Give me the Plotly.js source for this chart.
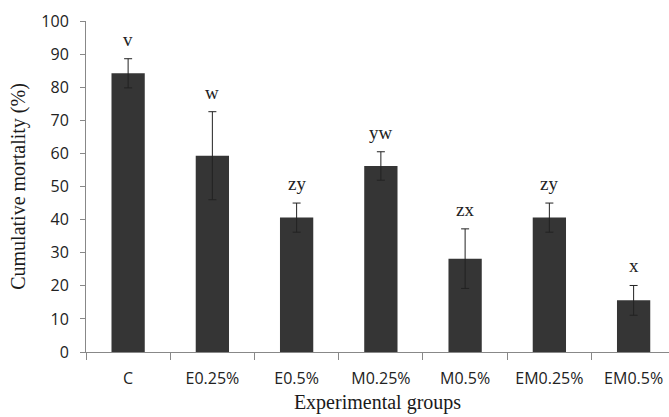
<!DOCTYPE html>
<html><head><meta charset="utf-8">
<script src="https://cdn.plot.ly/plotly-3.0.1.min.js"></script>
<style>html,body{margin:0;padding:0;background:#fff;}#chart{width:669px;height:417px;}</style>
</head><body><div id="chart"></div>
<script>
const groups = ["C", "E0.25%", "E0.5%", "M0.25%", "M0.5%", "EM0.25%", "EM0.5%"];
const mortality = [84.2, 59.3, 40.6, 56.2, 28.2, 40.6, 15.6];
const errors = [4.4, 13.3, 4.4, 4.3, 9.0, 4.4, 4.5];
const letters = ["v", "w", "zy", "yw", "zx", "zy", "x"];

const trace = {
  type: "bar",
  x: groups,
  y: mortality,
  width: 0.395,
  marker: {color: "#353535", line: {width: 0}},
  error_y: {type: "data", array: errors, visible: true, color: "#222222", thickness: 1, width: 4},
  hoverinfo: "skip"
};

const annotations = groups.map((g, i) => ({
  x: g, y: mortality[i] + errors[i], xref: "x", yref: "y",
  text: letters[i], showarrow: false, yanchor: "bottom", yshift: 7,
  font: {family: "Liberation Serif, Times New Roman, serif", size: 19, color: "#222"}
}));

const layout = {
  width: 669, height: 417,
  margin: {l: 86, r: 0, t: 21, b: 65, pad: 0},
  paper_bgcolor: "#fff", plot_bgcolor: "#fff",
  showlegend: false,
  bargap: 0.6,
  xaxis: {
    type: "category", range: [-0.5, 6.42],
    tickson: "boundaries", ticks: "outside", ticklen: 7, tickcolor: "#888",
    ticklabelstandoff: 12,
    showline: true, linecolor: "#888", linewidth: 1,
    showgrid: false, zeroline: false,
    tickfont: {family: "Open Sans, Liberation Sans, sans-serif", size: 16, color: "#222"},
    title: {text: "Experimental groups", standoff: 6,
      font: {family: "Liberation Serif, Times New Roman, serif", size: 20, color: "#1a1a1a"}}
  },
  yaxis: {
    range: [0, 100], dtick: 10, ticks: "outside", ticklen: 5, tickcolor: "#888",
    ticklabelstandoff: 8,
    showline: true, linecolor: "#888", linewidth: 1,
    showgrid: false, zeroline: false,
    tickfont: {family: "Open Sans, Liberation Sans, sans-serif", size: 16, color: "#222"},
    title: {text: "Cumulative mortality (%)", standoff: 10,
      font: {family: "Liberation Serif, Times New Roman, serif", size: 20, color: "#1a1a1a"}}
  },
  annotations: annotations
};

Plotly.newPlot("chart", [trace], layout, {staticPlot: true, displayModeBar: false});
</script></body></html>
